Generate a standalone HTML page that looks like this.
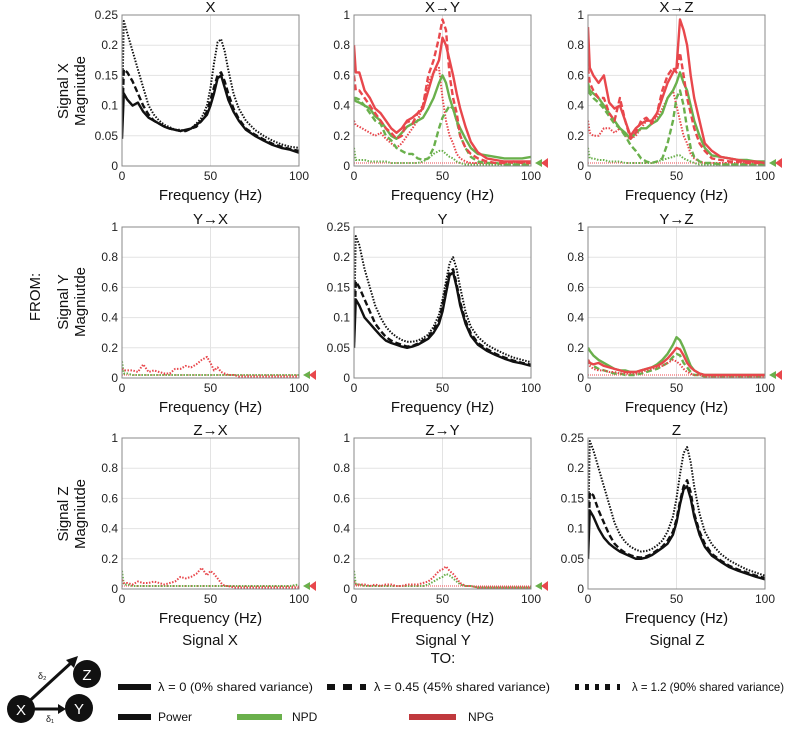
<!DOCTYPE html>
<html><head><meta charset="utf-8"><style>
body{margin:0;background:#fff}
svg{font-family:"Liberation Sans",sans-serif}
</style></head><body>
<svg id="fig" width="787" height="733" viewBox="0 0 787 733" xmlns="http://www.w3.org/2000/svg" style="position:absolute;left:0;top:0"></svg>
<script>
const freqs=[0,1,3,6,9,12,15,18,21,24,27,30,33,36,39,42,45,48,50,52,54,56,58,60,63,66,70,75,80,85,90,95,100];
const powXsolid=[0.045,0.12,0.11,0.10,0.105,0.09,0.08,0.075,0.07,0.065,0.062,0.06,0.058,0.06,0.062,0.068,0.075,0.085,0.10,0.12,0.145,0.15,0.13,0.11,0.09,0.075,0.06,0.05,0.042,0.035,0.03,0.027,0.022];
const powXdash=[0.06,0.16,0.155,0.14,0.12,0.10,0.085,0.075,0.07,0.065,0.062,0.06,0.058,0.058,0.062,0.065,0.075,0.09,0.11,0.13,0.15,0.155,0.14,0.12,0.095,0.078,0.062,0.052,0.044,0.037,0.032,0.028,0.025];
const powXdot=[0.08,0.24,0.22,0.19,0.16,0.13,0.10,0.085,0.075,0.068,0.064,0.06,0.06,0.058,0.062,0.07,0.08,0.10,0.13,0.17,0.205,0.21,0.19,0.16,0.12,0.095,0.075,0.06,0.05,0.042,0.036,0.032,0.03];
const powYsolid=[0.05,0.13,0.12,0.10,0.09,0.08,0.07,0.062,0.058,0.055,0.052,0.05,0.052,0.055,0.06,0.065,0.075,0.09,0.11,0.14,0.17,0.175,0.15,0.12,0.09,0.07,0.055,0.045,0.038,0.032,0.027,0.024,0.02];
const powYdash=[0.06,0.16,0.15,0.13,0.11,0.09,0.078,0.068,0.062,0.058,0.055,0.052,0.053,0.057,0.062,0.068,0.08,0.095,0.12,0.15,0.175,0.18,0.155,0.125,0.095,0.074,0.058,0.048,0.04,0.034,0.029,0.025,0.022];
const powYdot=[0.08,0.235,0.22,0.18,0.15,0.12,0.1,0.085,0.075,0.068,0.063,0.06,0.06,0.062,0.066,0.072,0.085,0.105,0.13,0.16,0.19,0.2,0.18,0.15,0.11,0.085,0.068,0.055,0.047,0.04,0.034,0.03,0.026];
const powZsolid=[0.05,0.13,0.12,0.10,0.085,0.075,0.068,0.062,0.058,0.054,0.05,0.05,0.052,0.056,0.062,0.068,0.075,0.09,0.11,0.14,0.165,0.17,0.15,0.12,0.09,0.07,0.055,0.045,0.036,0.03,0.025,0.02,0.016];
const powZdash=[0.06,0.16,0.155,0.13,0.11,0.09,0.075,0.066,0.06,0.056,0.053,0.052,0.054,0.058,0.064,0.07,0.08,0.095,0.115,0.145,0.17,0.18,0.16,0.125,0.095,0.075,0.058,0.047,0.038,0.032,0.027,0.022,0.018];
const powZdot=[0.08,0.245,0.23,0.2,0.17,0.14,0.11,0.09,0.078,0.07,0.065,0.062,0.063,0.066,0.072,0.08,0.095,0.12,0.15,0.19,0.225,0.235,0.21,0.17,0.125,0.095,0.074,0.058,0.047,0.039,0.032,0.027,0.022];

const xyNPGsolid=[0.8,0.62,0.62,0.5,0.45,0.38,0.35,0.3,0.25,0.22,0.25,0.3,0.32,0.35,0.38,0.5,0.62,0.7,0.85,0.8,0.7,0.6,0.48,0.38,0.26,0.16,0.09,0.05,0.04,0.03,0.03,0.03,0.03];
const xyNPGdash=[0.6,0.5,0.5,0.45,0.4,0.35,0.3,0.25,0.22,0.18,0.2,0.3,0.28,0.35,0.4,0.6,0.7,0.85,0.97,0.9,0.6,0.45,0.35,0.2,0.12,0.08,0.05,0.03,0.02,0.02,0.03,0.02,0.02];
const xyNPGdot=[0.3,0.27,0.26,0.24,0.22,0.2,0.22,0.18,0.15,0.12,0.15,0.2,0.25,0.3,0.4,0.55,0.62,0.65,0.45,0.3,0.2,0.15,0.08,0.05,0.03,0.02,0.02,0.02,0.02,0.02,0.02,0.02,0.02];
const xyNPDsolid=[0.45,0.43,0.42,0.4,0.38,0.33,0.3,0.25,0.2,0.18,0.22,0.26,0.28,0.3,0.32,0.38,0.45,0.55,0.6,0.55,0.45,0.38,0.3,0.25,0.18,0.12,0.08,0.07,0.06,0.05,0.05,0.05,0.06];
const xyNPDdash=[0.45,0.45,0.44,0.4,0.35,0.3,0.28,0.2,0.17,0.12,0.1,0.08,0.08,0.05,0.04,0.05,0.12,0.25,0.32,0.36,0.4,0.38,0.3,0.2,0.12,0.06,0.03,0.02,0.02,0.01,0.01,0.01,0.01];
const xyNPDdot=[0.12,0.04,0.04,0.04,0.03,0.03,0.03,0.03,0.02,0.02,0.02,0.02,0.02,0.02,0.03,0.05,0.08,0.1,0.1,0.08,0.06,0.05,0.03,0.02,0.01,0.01,0.01,0.01,0.01,0.01,0.01,0.01,0.01];

const xzNPGsolid=[0.92,0.65,0.6,0.55,0.6,0.42,0.38,0.4,0.3,0.2,0.25,0.28,0.3,0.3,0.35,0.45,0.55,0.62,0.65,0.97,0.9,0.8,0.6,0.45,0.3,0.15,0.1,0.06,0.05,0.04,0.03,0.03,0.02];
const xzNPGdash=[0.65,0.55,0.5,0.45,0.45,0.35,0.3,0.45,0.3,0.18,0.22,0.3,0.32,0.28,0.35,0.5,0.6,0.65,0.62,0.75,0.6,0.45,0.35,0.25,0.15,0.1,0.05,0.04,0.03,0.03,0.02,0.02,0.02];
const xzNPGdot=[0.3,0.22,0.2,0.2,0.25,0.25,0.22,0.25,0.2,0.18,0.2,0.25,0.3,0.3,0.32,0.38,0.45,0.5,0.4,0.3,0.2,0.15,0.08,0.05,0.03,0.02,0.02,0.02,0.02,0.02,0.02,0.02,0.02];
const xzNPDsolid=[0.55,0.5,0.48,0.45,0.4,0.35,0.3,0.25,0.22,0.18,0.22,0.25,0.25,0.28,0.3,0.35,0.45,0.5,0.55,0.62,0.55,0.5,0.4,0.3,0.2,0.12,0.07,0.06,0.05,0.04,0.04,0.03,0.03];
const xzNPDdash=[0.5,0.48,0.45,0.42,0.38,0.33,0.28,0.25,0.2,0.14,0.1,0.05,0.03,0.02,0.03,0.05,0.15,0.3,0.45,0.5,0.4,0.25,0.12,0.06,0.03,0.02,0.02,0.01,0.01,0.01,0.01,0.01,0.01];
const xzNPDdot=[0.12,0.05,0.05,0.04,0.04,0.03,0.03,0.03,0.02,0.02,0.02,0.02,0.02,0.02,0.03,0.04,0.05,0.06,0.07,0.07,0.05,0.04,0.03,0.02,0.01,0.01,0.01,0.01,0.01,0.01,0.01,0.01,0.01];

const yxNPGdot=[0.06,0.05,0.05,0.05,0.04,0.09,0.04,0.05,0.04,0.03,0.03,0.06,0.06,0.08,0.07,0.09,0.12,0.14,0.1,0.05,0.07,0.04,0.03,0.02,0.02,0.01,0.01,0.01,0.01,0.01,0.01,0.01,0.01];
const yxNPDdot=[0.11,0.03,0.03,0.02,0.02,0.02,0.02,0.02,0.02,0.02,0.02,0.02,0.02,0.02,0.02,0.02,0.02,0.02,0.02,0.02,0.02,0.02,0.02,0.02,0.02,0.02,0.02,0.02,0.02,0.02,0.02,0.02,0.02];
const zxNPDdot=[0.12,0.03,0.03,0.02,0.02,0.02,0.02,0.02,0.02,0.02,0.02,0.02,0.02,0.02,0.02,0.02,0.02,0.02,0.02,0.02,0.02,0.02,0.02,0.02,0.02,0.02,0.02,0.02,0.02,0.02,0.02,0.02,0.03];
const zxNPGdot=[0.06,0.04,0.04,0.03,0.05,0.04,0.04,0.05,0.04,0.03,0.04,0.05,0.08,0.07,0.08,0.1,0.14,0.09,0.12,0.1,0.07,0.04,0.02,0.02,0.01,0.01,0.01,0.01,0.01,0.01,0.01,0.01,0.01];
const zyNPGdot=[0.05,0.03,0.03,0.03,0.02,0.03,0.02,0.03,0.03,0.02,0.02,0.03,0.03,0.03,0.04,0.05,0.08,0.12,0.13,0.15,0.12,0.1,0.07,0.04,0.02,0.02,0.01,0.01,0.01,0.01,0.01,0.01,0.01];
const zyNPDdot=[0.12,0.03,0.03,0.02,0.02,0.02,0.02,0.02,0.02,0.02,0.02,0.02,0.02,0.02,0.02,0.03,0.05,0.07,0.08,0.1,0.09,0.07,0.05,0.03,0.02,0.02,0.01,0.01,0.01,0.01,0.01,0.01,0.01];
const yzNPGsolid=[0.12,0.1,0.09,0.1,0.08,0.07,0.06,0.05,0.04,0.04,0.04,0.05,0.06,0.07,0.08,0.1,0.13,0.17,0.2,0.19,0.15,0.1,0.07,0.05,0.03,0.02,0.02,0.02,0.02,0.02,0.02,0.02,0.02];
const yzNPDsolid=[0.2,0.18,0.15,0.12,0.1,0.08,0.06,0.05,0.05,0.04,0.04,0.05,0.06,0.07,0.09,0.12,0.16,0.22,0.27,0.25,0.2,0.14,0.08,0.05,0.03,0.02,0.02,0.02,0.02,0.02,0.02,0.02,0.02];
const yzNPGdot=[0.1,0.08,0.06,0.05,0.05,0.04,0.04,0.03,0.03,0.03,0.03,0.04,0.05,0.06,0.07,0.08,0.1,0.12,0.11,0.09,0.06,0.04,0.03,0.02,0.02,0.01,0.01,0.01,0.01,0.01,0.01,0.01,0.01];
const yzNPDdash=[0.12,0.1,0.08,0.06,0.05,0.04,0.03,0.03,0.02,0.02,0.02,0.03,0.04,0.05,0.06,0.08,0.1,0.14,0.16,0.15,0.1,0.07,0.04,0.02,0.02,0.01,0.01,0.01,0.01,0.01,0.01,0.01,0.01];
const threshold=[0.02];

const powTicks=[0,0.05,0.1,0.15,0.2,0.25];
const cTicks=[0,0.2,0.4,0.6,0.8,1];
const fTicks=[0,50,100];

const NS='http://www.w3.org/2000/svg';
const svg=document.getElementById('fig');
function el(tag,attrs,parent){const e=document.createElementNS(NS,tag);for(const k in attrs)e.setAttribute(k,attrs[k]);(parent||svg).appendChild(e);return e;}
function txt(s,attrs,parent){const e=el('text',attrs,parent);e.textContent=s;return e;}
const RED='#e8474c',GREEN='#6ab04c';
const cols=[122,354,588],W=177,rows=[15,227,438],H=151;
const styles={solid:{w:2.4,d:''},dash:{w:2.4,d:'6,3'},dot:{w:2,d:'1.5,1.5'}};

function panel(ci,ri,title,ymax,ticks,series,coupling,name){
  const x0=cols[ci],y0=rows[ri];
  const g=el('g',{});
  
  
  const xs=f=>x0+f/100*W, ys=v=>y0+H-v/ymax*H;
  ticks.forEach(t=>{
    el('line',{x1:x0,x2:x0+W,y1:ys(t),y2:ys(t),stroke:'#e3e3e3','stroke-width':1},g);
    const lt=txt(String(t),{x:x0-4,y:ys(t)+4,'text-anchor':'end','font-size':12,fill:'#222'},g);
    
    
  });
  fTicks.forEach(t=>{
    if(t===50) el('line',{x1:xs(t),x2:xs(t),y1:y0,y2:y0+H,stroke:'#e3e3e3','stroke-width':1},g);
    const lt=txt(String(t),{x:xs(t),y:y0+H+14,'text-anchor':'middle','font-size':12,fill:'#222'},g);
    
    
  });
  const clipId='c'+ci+ri;
  const cp=el('clipPath',{id:clipId},g);el('rect',{x:x0,y:y0-3,width:W,height:H+3},cp);
  const sg=el('g',{'clip-path':'url(#'+clipId+')'},g);
  if(coupling){
    const th=el('line',{x1:x0,x2:x0+W,y1:ys(threshold[0]),y2:ys(threshold[0]),stroke:RED,'stroke-width':1,'stroke-dasharray':'1,1'},sg);
    
    
  }
  series.forEach(s=>{
    const st=styles[s.style];
    const p=el('path',{d:s.v.map((v,i)=>(i?'L':'M')+xs(freqs[i]).toFixed(1)+','+ys(v).toFixed(1)).join(''),fill:'none',stroke:s.c,'stroke-width':st.w,'stroke-dasharray':st.d,'stroke-linejoin':'round'},sg);
    
    
  });
  el('rect',{x:x0,y:y0,width:W,height:H,fill:'none',stroke:'#888','stroke-width':1},g);
  const tt=txt(title,{x:x0+W/2,y:y0-3,'text-anchor':'middle','font-size':15,fill:'#111'},g);
  
  
  const xl=txt('Frequency (Hz)',{x:x0+W/2,y:y0+H+34,'text-anchor':'middle','font-size':15,fill:'#111'},g);
  
  
  if(coupling){
    const ty=ys(threshold[0]);
    const t1=el('polygon',{points:`${x0+W+4},${ty} ${x0+W+11},${ty-4} ${x0+W+11},${ty+4}`,fill:GREEN},g);
    
    
    const t2=el('polygon',{points:`${x0+W+10},${ty} ${x0+W+17},${ty-5} ${x0+W+17},${ty+5}`,fill:RED},g);
    
    
  }
}
const K='#111';
panel(0,0,'X',0.25,powTicks,[{v:powXdot,c:K,style:'dot',n:'power-x-lambda-1.2'},{v:powXdash,c:K,style:'dash',n:'power-x-lambda-0.45'},{v:powXsolid,c:K,style:'solid',n:'power-x-lambda-0'}],false,'panel-x-power');
panel(1,1,'Y',0.25,powTicks,[{v:powYdot,c:K,style:'dot',n:'power-y-lambda-1.2'},{v:powYdash,c:K,style:'dash',n:'power-y-lambda-0.45'},{v:powYsolid,c:K,style:'solid',n:'power-y-lambda-0'}],false,'panel-y-power');
panel(2,2,'Z',0.25,powTicks,[{v:powZdot,c:K,style:'dot',n:'power-z-lambda-1.2'},{v:powZdash,c:K,style:'dash',n:'power-z-lambda-0.45'},{v:powZsolid,c:K,style:'solid',n:'power-z-lambda-0'}],false,'panel-z-power');
panel(1,0,'X→Y',1,cTicks,[
 {v:xyNPDdot,c:GREEN,style:'dot',n:'npd-xy-lambda-1.2'},{v:xyNPGdot,c:RED,style:'dot',n:'npg-xy-lambda-1.2'},
 {v:xyNPDdash,c:GREEN,style:'dash',n:'npd-xy-lambda-0.45'},{v:xyNPDsolid,c:GREEN,style:'solid',n:'npd-xy-lambda-0'},
 {v:xyNPGdash,c:RED,style:'dash',n:'npg-xy-lambda-0.45'},{v:xyNPGsolid,c:RED,style:'solid',n:'npg-xy-lambda-0'}],true,'panel-x-to-y');
panel(2,0,'X→Z',1,cTicks,[
 {v:xzNPDdot,c:GREEN,style:'dot',n:'npd-xz-lambda-1.2'},{v:xzNPGdot,c:RED,style:'dot',n:'npg-xz-lambda-1.2'},
 {v:xzNPDdash,c:GREEN,style:'dash',n:'npd-xz-lambda-0.45'},{v:xzNPDsolid,c:GREEN,style:'solid',n:'npd-xz-lambda-0'},
 {v:xzNPGdash,c:RED,style:'dash',n:'npg-xz-lambda-0.45'},{v:xzNPGsolid,c:RED,style:'solid',n:'npg-xz-lambda-0'}],true,'panel-x-to-z');
panel(0,1,'Y→X',1,cTicks,[{v:yxNPDdot,c:GREEN,style:'dot',n:'npd-yx'},{v:yxNPGdot,c:RED,style:'dot',n:'npg-yx'}],true,'panel-y-to-x');
panel(2,1,'Y→Z',1,cTicks,[{v:yzNPDdash,c:GREEN,style:'dash',n:'npd-yz-lambda-0.45'},{v:yzNPGdot,c:RED,style:'dot',n:'npg-yz-lambda-1.2'},{v:yzNPDsolid,c:GREEN,style:'solid',n:'npd-yz-lambda-0'},{v:yzNPGsolid,c:RED,style:'solid',n:'npg-yz-lambda-0'}],true,'panel-y-to-z');
panel(0,2,'Z→X',1,cTicks,[{v:zxNPDdot,c:GREEN,style:'dot',n:'npd-zx'},{v:zxNPGdot,c:RED,style:'dot',n:'npg-zx'}],true,'panel-z-to-x');
panel(1,2,'Z→Y',1,cTicks,[{v:zyNPDdot,c:GREEN,style:'dot',n:'npd-zy'},{v:zyNPGdot,c:RED,style:'dot',n:'npg-zy'}],true,'panel-z-to-y');
</script>
<svg style="position:absolute;left:0;top:0" width="787" height="733" font-family="Liberation Sans, sans-serif" fill="#111">
 <g transform="translate(72,91) rotate(-90)"><text text-anchor="middle" font-size="15" y="-4">Signal X</text><text text-anchor="middle" font-size="15" y="13">Magniutde</text></g>
 <g transform="translate(72,302) rotate(-90)"><text text-anchor="middle" font-size="15" y="-4">Signal Y</text><text text-anchor="middle" font-size="15" y="13">Magniutde</text></g>
 <g transform="translate(72,514) rotate(-90)"><text text-anchor="middle" font-size="15" y="-4">Signal Z</text><text text-anchor="middle" font-size="15" y="13">Magniutde</text></g>
 <text x="35" y="302" text-anchor="middle" font-size="15" transform="rotate(-90 35 297)">FROM:</text>
 <text x="210" y="645" text-anchor="middle" font-size="15">Signal X</text>
 <text x="443" y="645" text-anchor="middle" font-size="15">Signal Y</text>
 <text x="443" y="663" text-anchor="middle" font-size="15">TO:</text>
 <text x="677" y="645" text-anchor="middle" font-size="15">Signal Z</text>
 <g>
  <line x1="24" y1="706" x2="72" y2="662" stroke="#111" stroke-width="3"/>
  <polygon points="78,656 66,660 74,668" fill="#111"/>
  <line x1="24" y1="709" x2="60" y2="709" stroke="#111" stroke-width="3"/>
  <polygon points="66,709 58,704 58,714" fill="#111"/>
  <circle cx="21" cy="709" r="14"/><text x="21" y="715" text-anchor="middle" font-size="15" fill="#fff">X</text>
  <circle cx="79" cy="708" r="14"/><text x="79" y="714" text-anchor="middle" font-size="15" fill="#fff">Y</text>
  <circle cx="87" cy="674" r="14"/><text x="87" y="680" text-anchor="middle" font-size="15" fill="#fff">Z</text>
  <text x="38" y="679" font-size="9">δ₂</text><text x="46" y="722" font-size="9">δ₁</text>
 </g>
 <g font-size="12">
  <g><rect x="118" y="684" width="33" height="6"/><text x="158" y="691" textLength="155" lengthAdjust="spacingAndGlyphs">λ = 0 (0% shared variance)</text></g>
  <g><rect x="327" y="684" width="8" height="6"/><rect x="343" y="684" width="9" height="6"/><rect x="360" y="684" width="6" height="6"/><text x="374" y="691" textLength="176" lengthAdjust="spacingAndGlyphs">λ = 0.45 (45% shared variance)</text></g>
  <g><rect x="575" y="684" width="4" height="6"/><rect x="585" y="684" width="4" height="6"/><rect x="595" y="684" width="4" height="6"/><rect x="605" y="684" width="5" height="6"/><rect x="617" y="684" width="3" height="6"/><text x="632" y="691" textLength="152" lengthAdjust="spacingAndGlyphs">λ = 1.2 (90% shared variance)</text></g>
  <g><rect x="118" y="714" width="33" height="6"/><text x="158" y="721">Power</text></g>
  <g><rect x="237" y="714" width="45" height="6" fill="#6ab04c"/><text x="292" y="721">NPD</text></g>
  <g><rect x="409" y="714" width="47" height="6" fill="#c0393d"/><text x="468" y="721">NPG</text></g>
 </g>
</svg>
</body></html>
